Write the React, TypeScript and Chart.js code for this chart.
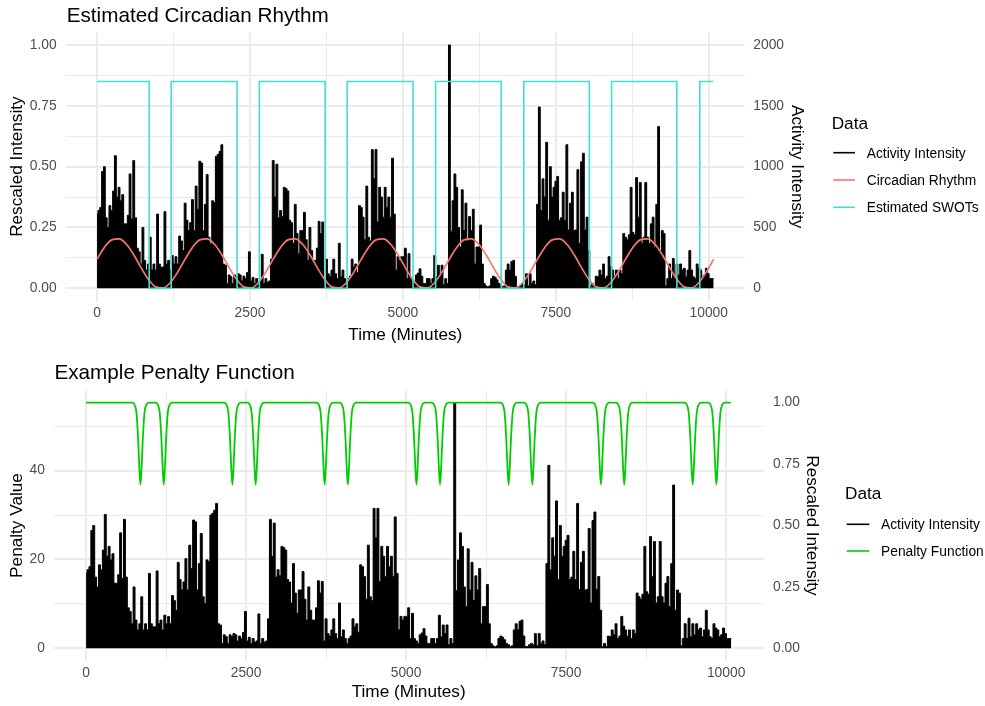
import { useEffect, useRef } from "react";
import { Chart, registerables } from "chart.js";

Chart.register(...registerables);

const FONT = "'Liberation Sans', Arial, Helvetica, sans-serif";
const W = 985;
const PANEL_H = 353;

// ---- data ----
const ACTIVITY_STEP_MIN = 30;
// activity counts every 30 minutes (0 .. 10080)
const ACTIVITY = [
  610, 640, 665, 960, 1000, 580, 500, 680, 640, 800, 1090, 750,
  830, 720, 770, 530, 530, 600, 940, 570, 1050, 580, 330, 300,
  200, 500, 230, 150, 200, 420, 150, 200, 150, 610, 200, 175,
  175, 630, 200, 230, 150, 270, 200, 260, 200, 430, 390, 310,
  700, 560, 475, 540, 730, 475, 840, 650, 1045, 1030, 475, 690,
  935, 420, 365, 720, 705, 1085, 1100, 1125, 1180, 200, 190, 40,
  110, 95, 40, 110, 95, 120, 110, 60, 100, 80, 130, 300,
  60, 90, 40, 80, 50, 60, 280, 40, 80, 50, 60, 240,
  1050, 750, 1020, 580, 640, 590, 830, 820, 800, 560, 540, 370,
  690, 450, 285, 475, 475, 625, 400, 230, 500, 310, 230, 230,
  330, 550, 450, 545, 60, 240, 120, 100, 150, 240, 120, 80,
  370, 95, 150, 80, 40, 80, 100, 240, 175, 200, 130, 680,
  665, 585, 400, 840, 420, 390, 1140, 900, 1140, 545, 830, 750,
  585, 830, 665, 750, 585, 1070, 610, 150, 260, 230, 260, 260,
  330, 80, 285, 80, 60, 40, 110, 125, 160, 100, 40, 40,
  80, 80, 40, 80, 270, 95, 190, 120, 190, 30, 80, 40,
  2000, 470, 720, 940, 830, 500, 340, 810, 475, 700, 390, 590,
  475, 650, 200, 340, 340, 520, 200, 40, 20, 10, 20, 80,
  100, 90, 70, 40, 30, 15, 20, 150, 200, 150, 220, 230,
  100, 15, 15, 30, 40, 30, 120, 20, 120, 40, 60, 30,
  690, 1490, 640, 900, 750, 1200, 560, 1000, 750, 830, 880, 920,
  560, 580, 790, 560, 1180, 480, 700, 790, 475, 480, 975, 370,
  1040, 1110, 480, 585, 310, 15, 40, 15, 100, 95, 150, 110,
  200, 80, 100, 260, 180, 150, 100, 150, 80, 150, 120, 450,
  420, 400, 440, 830, 460, 440, 910, 585, 870, 370, 420, 870,
  420, 370, 530, 585, 340, 690, 1330, 310, 475, 450, 20, 80,
  200, 80, 245, 95, 200, 110, 200, 150, 165, 95, 150, 310,
  150, 95, 80, 200, 165, 150, 95, 110, 165, 120, 80, 80,
  80,
];

const CIRCADIAN_STEP_MIN = 120;
// rescaled circadian rhythm every 120 minutes
const CIRCADIAN = [
  0.120, 0.168, 0.199, 0.203, 0.181, 0.138, 0.085, 0.037, 0.006, 0.002, 0.024, 0.067,
  0.120, 0.168, 0.199, 0.203, 0.181, 0.138, 0.085, 0.037, 0.006, 0.002, 0.024, 0.067,
  0.120, 0.168, 0.199, 0.203, 0.181, 0.138, 0.085, 0.037, 0.006, 0.002, 0.024, 0.067,
  0.120, 0.168, 0.199, 0.203, 0.181, 0.138, 0.085, 0.037, 0.006, 0.002, 0.024, 0.067,
  0.120, 0.168, 0.199, 0.203, 0.181, 0.138, 0.085, 0.037, 0.006, 0.002, 0.024, 0.067,
  0.120, 0.168, 0.199, 0.203, 0.181, 0.138, 0.085, 0.037, 0.006, 0.002, 0.024, 0.067,
  0.120, 0.168, 0.199, 0.203, 0.181, 0.138, 0.085, 0.037, 0.006, 0.002, 0.024, 0.067,
  0.120,
];

// estimated SWOTs: level starting at each time
const SWOT_TIMES = [0, 853, 1212, 2289, 2653, 3729, 4088, 5165, 5535, 6607, 6976, 8047, 8411, 9478, 9853];
const SWOT_LEVELS = [0.85, 0, 0.85, 0, 0.85, 0, 0.85, 0, 0.85, 0, 0.85, 0, 0.85, 0, 0.85];
const SWOT_END = 10070;

// penalty function: flat at 1, dips at each SWOT transition
const PENALTY_BASE = 1;
const PENALTY_END = 10073;
const DIP_CENTERS = [850, 1214, 2286, 2650, 3728, 4090, 5162, 5530, 6602, 6972, 8044, 8408, 9478, 9848];
const DIP_OFFSETS = [-130, -100, -62, -36, -16, 0, 16, 36, 62, 100, 130];
const DIP_VALUES = [1, 0.995, 0.957, 0.848, 0.726, 0.667, 0.726, 0.848, 0.957, 0.995, 1];
const PENALTY_MAX = 55.3;

const X_TICKS = [0, 1250, 2500, 3750, 5000, 6250, 7500, 8750, 10000];
const X_LABELED = [0, 2500, 5000, 7500, 10000];
const RESCALED_TICKS = [0, 0.125, 0.25, 0.375, 0.5, 0.625, 0.75, 0.875, 1];
const RESCALED_LABELED = [0, 0.25, 0.5, 0.75, 1];
const COUNT_TICKS = [0, 500, 1000, 1500, 2000];
const PENALTY_TICKS = [0, 10, 20, 30, 40, 50];
const PENALTY_LABELED = [0, 20, 40];

const COLORS = {
  activity: "#000000",
  circadian: "#F8766D",
  swot: "#40E0D0",
  penalty: "#00CD00",
  grid: "#EBEBEB",
  tick: "#4D4D4D",
};

const SIZE = { title: 20.7, axisTitle: 17.2, tick: 13.8, legendTitle: 17.2, legendText: 13.8 };

const decorPlugin = {
  id: "decor",
  afterDraw(chart: any, _a: any, opts: any) {
    const { ctx, chartArea } = chart;
    ctx.save();
    ctx.fillStyle = "#000";
    ctx.textAlign = "left";
    ctx.textBaseline = "alphabetic";
    ctx.font = `${SIZE.title}px ${FONT}`;
    ctx.fillText(opts.title, chartArea.left + opts.titleDx, opts.titleBaseline);
    const lg = opts.legend;
    ctx.font = `${SIZE.legendTitle}px ${FONT}`;
    ctx.fillText("Data", lg.titleX, lg.titleBaseline);
    const sets = chart.data.datasets
      .filter((d: any) => d.legendRank !== undefined)
      .sort((a: any, b: any) => a.legendRank - b.legendRank);
    sets.forEach((d: any, k: number) => {
      const y = lg.firstY + k * lg.gap;
      ctx.strokeStyle = d.borderColor;
      ctx.lineWidth = 1.6;
      ctx.beginPath();
      ctx.moveTo(lg.keyX1, y);
      ctx.lineTo(lg.keyX2, y);
      ctx.stroke();
      ctx.font = `${SIZE.legendText}px ${FONT}`;
      ctx.fillStyle = "#000";
      ctx.fillText(d.label, lg.textX, y + 5);
    });
    ctx.restore();
  },
};

function xScale(height: number, tickPad: number, titlePadBottom: number) {
  return {
    type: "linear",
    min: -504,
    max: 10584,
    afterBuildTicks: (s: any) => {
      s.ticks = X_TICKS.map((v) => ({ value: v }));
    },
    afterFit: (s: any) => {
      s.height = height;
    },
    ticks: {
      callback: (v: any) => (X_LABELED.includes(v) ? String(v) : ""),
      color: COLORS.tick,
      font: { size: SIZE.tick, family: FONT },
      padding: tickPad,
      maxRotation: 0,
      autoSkip: false,
    },
    grid: {
      color: COLORS.grid,
      lineWidth: (c: any) => (c.tick && X_LABELED.includes(c.tick.value) ? 2 : 1),
      drawTicks: false,
    },
    border: { display: false },
    title: {
      display: true,
      text: "Time (Minutes)",
      color: "#000",
      font: { size: SIZE.axisTitle, family: FONT },
      padding: { top: 0, bottom: titlePadBottom },
    },
  };
}

function yScale(opts: any) {
  return {
    type: "linear",
    position: opts.position,
    min: opts.min,
    max: opts.max,
    afterBuildTicks: (s: any) => {
      s.ticks = opts.ticks.map((v: number) => ({ value: v }));
    },
    afterFit: (s: any) => {
      s.width = opts.width;
    },
    ticks: {
      callback: (v: any) => (opts.labeled.includes(v) ? opts.fmt(v) : ""),
      color: COLORS.tick,
      font: { size: SIZE.tick, family: FONT },
      padding: opts.tickPad,
      autoSkip: false,
    },
    grid: opts.grid
      ? {
          color: COLORS.grid,
          lineWidth: (c: any) => (c.tick && opts.labeled.includes(c.tick.value) ? 2 : 1),
          drawTicks: false,
        }
      : { display: false, drawTicks: false },
    border: { display: false },
    title: {
      display: true,
      text: opts.title,
      color: "#000",
      font: { size: SIZE.axisTitle, family: FONT },
      padding: { top: opts.titlePad, bottom: 0 },
    },
  };
}

export default function App() {
  const topRef = useRef<HTMLCanvasElement | null>(null);
  const botRef = useRef<HTMLCanvasElement | null>(null);

  useEffect(() => {
    const activityPoints = ACTIVITY.map((v, i) => ({ x: i * ACTIVITY_STEP_MIN, y: v }));
    const circadianPoints = CIRCADIAN.map((v, i) => ({ x: i * CIRCADIAN_STEP_MIN, y: v }));
    const swotPoints = SWOT_TIMES.map((t, i) => ({ x: t, y: SWOT_LEVELS[i] }));
    swotPoints.push({ x: SWOT_END, y: SWOT_LEVELS[SWOT_LEVELS.length - 1] });
    const penaltyPoints: { x: number; y: number }[] = [{ x: 0, y: PENALTY_BASE }];
    DIP_CENTERS.forEach((c) =>
      DIP_OFFSETS.forEach((o, k) => penaltyPoints.push({ x: c + o, y: DIP_VALUES[k] }))
    );
    penaltyPoints.push({ x: PENALTY_END, y: PENALTY_BASE });

    const activityDataset = (axis: string) => ({
      label: "Activity Intensity",
      legendRank: 0,
      data: activityPoints,
      yAxisID: axis,
      borderColor: COLORS.activity,
      backgroundColor: COLORS.activity,
      borderWidth: 1,
      pointRadius: 0,
      stepped: "middle",
      fill: "origin",
      order: 3,
    });

    const top = new Chart(topRef.current as HTMLCanvasElement, {
      type: "line",
      data: {
        datasets: [
          activityDataset("y2"),
          {
            label: "Circadian Rhythm",
            legendRank: 1,
            data: circadianPoints,
            yAxisID: "y",
            borderColor: COLORS.circadian,
            borderWidth: 1.7,
            pointRadius: 0,
            cubicInterpolationMode: "monotone",
            fill: false,
            order: 2,
          },
          {
            label: "Estimated SWOTs",
            legendRank: 2,
            data: swotPoints,
            yAxisID: "y",
            borderColor: COLORS.swot,
            borderWidth: 1.6,
            pointRadius: 0,
            stepped: true,
            fill: false,
            order: 1,
          },
        ] as any,
      },
      options: {
        animation: false,
        responsive: true,
        maintainAspectRatio: false,
        events: [],
        layout: { padding: { top: 32.8, right: 178, bottom: 0, left: 0 } },
        scales: {
          x: xScale(52.5, 4.2, 7.7),
          y: yScale({
            position: "left", min: -0.05, max: 1.05, ticks: RESCALED_TICKS, labeled: RESCALED_LABELED,
            fmt: (v: number) => v.toFixed(2), width: 66.2, tickPad: 9.5, grid: true,
            title: "Rescaled Intensity", titlePad: 6.7,
          }),
          y2: yScale({
            position: "right", min: -100, max: 2100, ticks: COUNT_TICKS, labeled: COUNT_TICKS,
            fmt: (v: number) => String(v), width: 62.5, tickPad: 8.8, grid: false,
            title: "Activity Intensity", titlePad: 0,
          }),
        } as any,
        plugins: {
          legend: { display: false },
          tooltip: { enabled: false },
          decor: {
            title: "Estimated Circadian Rhythm",
            titleDx: 0.5,
            titleBaseline: 21.5,
            legend: {
              titleX: 831.7, titleBaseline: 128.5,
              keyX1: 833.3, keyX2: 855, textX: 866.7, firstY: 152.7, gap: 27.3,
            },
          },
        } as any,
      },
      plugins: [decorPlugin as any],
    });

    const bot = new Chart(botRef.current as HTMLCanvasElement, {
      type: "line",
      data: {
        datasets: [
          activityDataset("ya"),
          {
            label: "Penalty Function",
            legendRank: 1,
            data: penaltyPoints,
            yAxisID: "y2",
            borderColor: COLORS.penalty,
            borderWidth: 1.8,
            pointRadius: 0,
            cubicInterpolationMode: "monotone",
            fill: false,
            order: 1,
          },
        ] as any,
      },
      options: {
        animation: false,
        responsive: true,
        maintainAspectRatio: false,
        events: [],
        layout: { padding: { top: 37.4, right: 162.7, bottom: 0, left: 0 } },
        scales: {
          x: xScale(45.4, 4.1, 3.7),
          y: yScale({
            position: "left", min: -0.05 * PENALTY_MAX, max: 1.05 * PENALTY_MAX, ticks: PENALTY_TICKS,
            labeled: PENALTY_LABELED, fmt: (v: number) => String(v), width: 53.8, tickPad: 9, grid: true,
            title: "Penalty Value", titlePad: 6.7,
          }),
          y2: yScale({
            position: "right", min: -0.05, max: 1.05, ticks: RESCALED_LABELED, labeled: RESCALED_LABELED,
            fmt: (v: number) => v.toFixed(2), width: 58.8, tickPad: 9.5, grid: false,
            title: "Rescaled Intensity", titlePad: 0,
          }),
          ya: { type: "linear", display: false, min: -100, max: 2100 },
        } as any,
        plugins: {
          legend: { display: false },
          tooltip: { enabled: false },
          decor: {
            title: "Example Penalty Function",
            titleDx: 0.6,
            titleBaseline: 25.5,
            legend: {
              titleX: 845, titleBaseline: 146.3,
              keyX1: 846.7, keyX2: 869.3, textX: 881, firstY: 171.3, gap: 26.7,
            },
          },
        } as any,
      },
      plugins: [decorPlugin as any],
    });

    return () => {
      top.destroy();
      bot.destroy();
    };
  }, []);

  return (
    <div
      style={{
        position: "fixed",
        left: 0,
        top: 0,
        width: W,
        height: PANEL_H * 2,
        background: "#ffffff",
      }}
    >
      <div style={{ position: "relative", width: W, height: PANEL_H }}>
        <canvas ref={topRef} />
      </div>
      <div style={{ position: "relative", width: W, height: PANEL_H }}>
        <canvas ref={botRef} />
      </div>
    </div>
  );
}
